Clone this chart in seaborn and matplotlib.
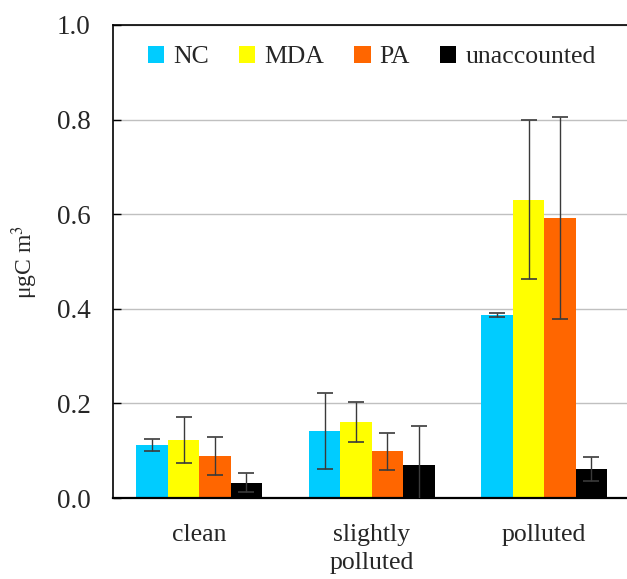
import pandas as pd
import matplotlib.pyplot as plt
import seaborn as sns

#---------------------------------------------------------
groups=['clean', 'slightly\npolluted', 'polluted']
series=['NC', 'MDA', 'PA', 'unaccounted']
cmap=['#00CCFF', '#FFFF00', '#FF6600', '#000000']
nc=[0.112, 0.142, 0.387]
mda=[0.123, 0.161, 0.631]
pa=[0.089, 0.099, 0.592]
unacc=[0.032, 0.070, 0.061]
nc_err=[0.012, 0.081, 0.005]
mda_err=[0.048, 0.043, 0.168]
pa_err=[0.041, 0.039, 0.213]
unacc_err=[0.020, 0.083, 0.025]

#--------------------------------------------------------
vals={'NC': nc, 'MDA': mda, 'PA': pa, 'unaccounted': unacc}
errs={'NC': nc_err, 'MDA': mda_err, 'PA': pa_err, 'unaccounted': unacc_err}
rows=[]
for s in series:
	for i, g in enumerate(groups):
		rows.append({'grp': g, 'ser': s, 'val': vals[s][i], 'err': errs[s][i]})
df=pd.DataFrame(rows)

#--------------------------------------------------------
sns.set_style('white')
plt.rcParams['font.family']=['Liberation Serif', 'DejaVu Serif']
plt.rcParams['mathtext.fontset']='stix'

fig=plt.figure(figsize=(6.27, 5.79), dpi=100)
ax=fig.add_axes([113/627, 81/579, 517.5/627, 473/579])
sns.barplot(data=df, x='grp', y='val', hue='ser', order=groups, hue_order=series,
	palette=cmap, width=0.73, errorbar=None, saturation=1, linewidth=0, ax=ax, zorder=2)

#error bars from the drawn bars
for cont, s in zip(ax.containers, series):
	xs=[b.get_x()+b.get_width()/2 for b in cont]
	hs=[b.get_height() for b in cont]
	ax.errorbar(xs, hs, yerr=errs[s], fmt='none', ecolor='#3a3a3a', elinewidth=1, capsize=6, capthick=1.2, zorder=3)

#adjust
ax.set_xlim(-0.5, 2.5)
ax.set_ylim(0, 1.0)
ax.set_yticks([0, 0.2, 0.4, 0.6, 0.8, 1.0])
ax.set_yticklabels(['0.0', '0.2', '0.4', '0.6', '0.8', '1.0'], fontsize=19.5)
ax.yaxis.grid(True, color='#c0c0c0', lw=1, zorder=0)
ax.set_axisbelow(True)
ax.set_xlabel('')
ax.set_ylabel('μgC m$^{3}$', fontsize=17, labelpad=12)
ax.tick_params(axis='x', which='major', length=0, labelsize=18.5, pad=19)
ax.set_xticks([0.5, 1.5], minor=True)
ax.tick_params(axis='x', which='minor', direction='in', length=7, width=1, color='black')
ax.tick_params(axis='y', which='major', direction='in', length=6, width=1, color='black', left=True, pad=16)
for sp in ['left', 'top', 'bottom']:
	ax.spines[sp].set_color('black')
	ax.spines[sp].set_linewidth(1.2)
ax.spines['bottom'].set_linewidth(1.6)
ax.spines['right'].set_visible(False)
for t in ax.get_xticklabels():
	t.set_linespacing(1.35)
	t.set_va('top')

ax.legend(loc='center', bbox_to_anchor=(0.5, 0.932), ncol=4, frameon=False, fontsize=18.5,
	handlelength=0.65, handleheight=0.65, handletextpad=0.35, columnspacing=1.15)

#save
plt.savefig('out.png', dpi=100)
plt.close()
